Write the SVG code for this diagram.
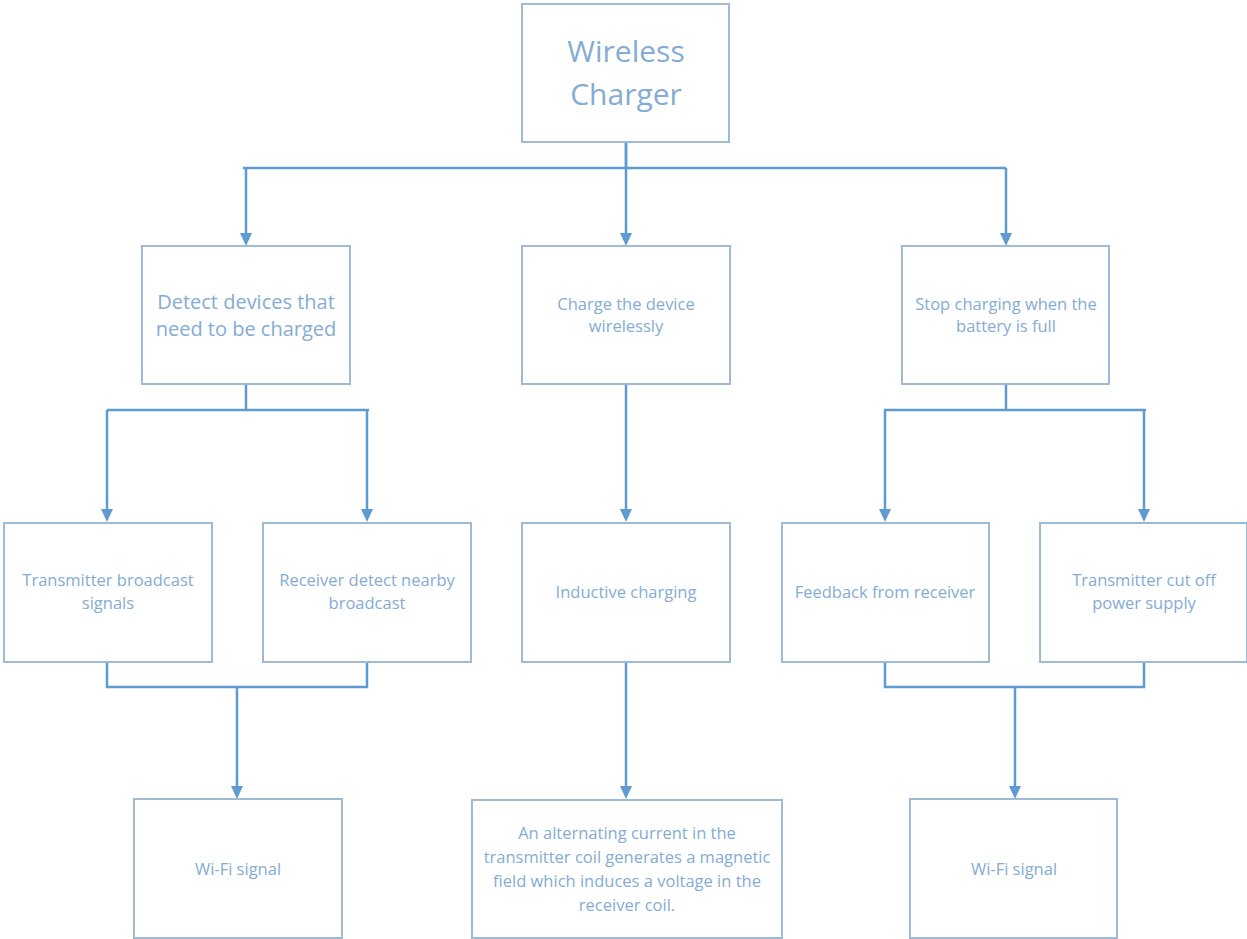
<svg xmlns="http://www.w3.org/2000/svg" width="1247" height="939" viewBox="0 0 1247 939">
<style>
.box{fill:#ffffff;stroke:#9dbad6;stroke-width:2}
.t{font-family:"Open Sans","Noto Sans",sans-serif;fill:#84acd4;text-anchor:middle}
.s{font-size:16.5px}
.m{font-size:20px}
.l{font-size:30px}
.c{fill:none;stroke:#5f9bd3;stroke-width:2.5}
</style>
<rect width="1247" height="939" fill="#ffffff"/>
<g id="connectors">
<path class="c" d="M626,143 V168"/>
<path class="c" d="M243,168 H1006"/>
<path class="c" d="M246,168 V235"/>
<path class="c" d="M626,143 V235"/>
<path class="c" d="M1006,168 V235"/>
<path class="c" d="M246,384 V410 M107,410 H369"/>
<path class="c" d="M107,410 V511"/>
<path class="c" d="M367,410 V511"/>
<path class="c" d="M626,384 V511"/>
<path class="c" d="M1006,384 V410 M884,410 H1146"/>
<path class="c" d="M885,410 V511"/>
<path class="c" d="M1144,410 V511"/>
<path class="c" d="M107,662 V687 H367 V662"/>
<path class="c" d="M237,687 V788"/>
<path class="c" d="M626,662 V788"/>
<path class="c" d="M885,662 V687 H1144 V662"/>
<path class="c" d="M1015,687 V788"/>
<g fill="#5f9bd3">
<path d="M240,233 L252,233 L246,246 Z"/>
<path d="M620,233 L632,233 L626,246 Z"/>
<path d="M1000,233 L1012,233 L1006,246 Z"/>
<path d="M101,509 L113,509 L107,522 Z"/>
<path d="M361,509 L373,509 L367,522 Z"/>
<path d="M620,509 L632,509 L626,522 Z"/>
<path d="M879,509 L891,509 L885,522 Z"/>
<path d="M1138,509 L1150,509 L1144,522 Z"/>
<path d="M231,786 L243,786 L237,799 Z"/>
<path d="M620,786 L632,786 L626,799 Z"/>
<path d="M1009,786 L1021,786 L1015,799 Z"/>
</g>
</g>
<g id="n-root"><rect class="box" x="522" y="4" width="207" height="138"/>
<text class="t l" x="626" y="62">Wireless</text><text class="t l" x="626" y="105">Charger</text></g>
<g id="n-detect"><rect class="box" x="142" y="246" width="208" height="138"/>
<text class="t m" x="246" y="309">Detect devices that</text><text class="t m" x="246" y="336">need to be charged</text></g>
<g id="n-charge"><rect class="box" x="522" y="246" width="208" height="138"/>
<text class="t s" x="626" y="310">Charge the device</text><text class="t s" x="626" y="332">wirelessly</text></g>
<g id="n-stop"><rect class="box" x="902" y="246" width="207" height="138"/>
<text class="t s" x="1006" y="310">Stop charging when the</text><text class="t s" x="1006" y="332">battery is full</text></g>
<g id="n-tx"><rect class="box" x="4" y="523" width="208" height="139"/>
<text class="t s" x="108" y="586">Transmitter broadcast</text><text class="t s" x="108" y="609">signals</text></g>
<g id="n-rx"><rect class="box" x="263" y="523" width="208" height="139"/>
<text class="t s" x="367" y="586">Receiver detect nearby</text><text class="t s" x="367" y="609">broadcast</text></g>
<g id="n-ind"><rect class="box" x="522" y="523" width="208" height="139"/>
<text class="t s" x="626" y="598">Inductive charging</text></g>
<g id="n-fb"><rect class="box" x="782" y="523" width="207" height="139"/>
<text class="t s" x="885" y="598">Feedback from receiver</text></g>
<g id="n-cut"><rect class="box" x="1040" y="523" width="207" height="139"/>
<text class="t s" x="1144" y="586">Transmitter cut off</text><text class="t s" x="1144" y="609">power supply</text></g>
<g id="n-wifi1"><rect class="box" x="134" y="799" width="208" height="139"/>
<text class="t s" x="238" y="875">Wi-Fi signal</text></g>
<g id="n-coil"><rect class="box" x="472" y="800" width="310" height="138"/>
<text class="t s" x="627" y="839">An alternating current in the</text>
<text class="t s" x="627" y="863">transmitter coil generates a magnetic</text>
<text class="t s" x="627" y="887">field which induces a voltage in the</text>
<text class="t s" x="627" y="911">receiver coil.</text></g>
<g id="n-wifi2"><rect class="box" x="910" y="799" width="207" height="139"/>
<text class="t s" x="1014" y="875">Wi-Fi signal</text></g>
</svg>
